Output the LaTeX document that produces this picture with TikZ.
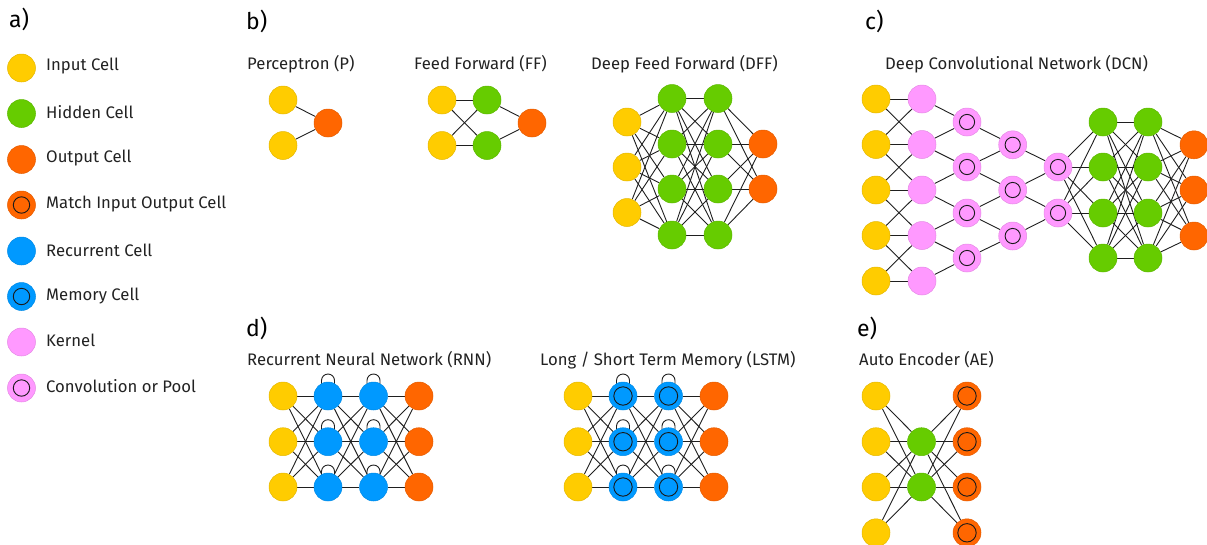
\documentclass[tikz,border=0pt]{standalone}
\usepackage{fontspec}
\setmainfont{Fira Sans}
\usetikzlibrary{calc}
\pgfdeclarelayer{bg}
\pgfsetlayers{bg,main}
\definecolor{cin}{HTML}{FFCC00}
\definecolor{chid}{HTML}{66CC00}
\definecolor{cout}{HTML}{FF6600}
\definecolor{crec}{HTML}{0099FF}
\definecolor{cker}{HTML}{FF99FF}
\definecolor{txt}{HTML}{222222}
\tikzset{
  ringr/.store in=\ringr, ringr=8.2,
  cell/.style={circle, minimum size=28, inner sep=0, line width=0.5},
  incell/.style={cell, fill=cin, draw=cin!90!black},
  hidcell/.style={cell, fill=chid, draw=chid!90!black},
  outcell/.style={cell, fill=cout, draw=cout!90!black},
  reccell/.style={cell, fill=crec, draw=crec!90!black},
  kercell/.style={cell, fill=cker, draw=cker!90!black},
  ring/.style={path picture={\draw[line width=0.9, black!90] (path picture bounding box.center) circle (\ringr);}},
  matchcell/.style={outcell, ring},
  memcell/.style={reccell, ring},
  convcell/.style={kercell, ring},
  conn/.style={draw=black!88, line width=0.9},
  ttl/.style={anchor=west, inner sep=0, text=txt, font=\fontsize{16.7}{19}\selectfont},
  lbl/.style={anchor=west, inner sep=0, text=txt, font=\fontsize{16.7}{19}\selectfont},
  panel/.style={anchor=west, inner sep=0, text=black, font=\fontsize{23}{27}\selectfont},
}
\newcommand{\selfloop}[1]{\draw[conn] ($(#1.center)+(-6.5,-10)$) -- ++(0,-5.5) arc[start angle=180, end angle=360, radius=6.5] -- ++(0,5.5);}
\begin{document}
\begin{tikzpicture}[x=1pt,y=-1pt]
\useasboundingbox (0,0) rectangle (1207,544);

% ---------- a) legend ----------
\node[panel] (la) at (9,19) {a)};
\node[incell]    (k1) at (21.5,68)  {};
\node[hidcell]   (k2) at (21.5,113.5) {};
\node[outcell]   (k3) at (21.5,159.5) {};
\node[matchcell] (k4) at (21.5,205) {};
\node[reccell]   (k5) at (21.5,251) {};
\node[memcell]   (k6) at (21.5,296.5) {};
\node[kercell]   (k7) at (21.5,342) {};
\node[convcell]  (k8) at (21.5,388) {};
\node[lbl] (t1) at (46,66)  {Input Cell};
\node[lbl] (t2) at (46,112) {Hidden Cell};
\node[lbl] (t3) at (46,158) {Output Cell};
\node[lbl] (t4) at (46,204) {Match Input Output Cell};
\node[lbl] (t5) at (46,250) {Recurrent Cell};
\node[lbl] (t6) at (46,296) {Memory Cell};
\node[lbl] (t7) at (46,340) {Kernel};
\node[lbl] (t8) at (46,386) {Convolution or Pool};

% ---------- b) ----------
\node[panel] (lb) at (246,21) {b)};
\node[ttl] (tp) at (247,64) {Perceptron (P)};
\node[incell] (p-i1) at (283,100) {};
\node[incell] (p-i2) at (283,145.5) {};
\node[outcell] (p-o) at (328,123) {};

\node[ttl] (tff) at (414,64) {Feed Forward (FF)};
\node[incell] (ff-i1) at (442,100) {};
\node[incell] (ff-i2) at (442,145.5) {};
\node[hidcell] (ff-h1) at (487,100) {};
\node[hidcell] (ff-h2) at (487,145.5) {};
\node[outcell] (ff-o) at (532,123) {};

\node[ttl] (tdff) at (591,64) {Deep Feed Forward (DFF)};
\foreach \i/\y in {1/122,2/167,3/212.5} \node[incell] (dff-i\i) at (627,\y) {};
\foreach \i/\y in {1/98.5,2/144,3/189,4/235} {
  \node[hidcell] (dff-a\i) at (672,\y) {};
  \node[hidcell] (dff-b\i) at (718,\y) {};
}
\foreach \i/\y in {1/144,2/189} \node[outcell] (dff-o\i) at (763,\y) {};

% ---------- c) ----------
\node[panel] (lc) at (865,21) {c)};
\node[ttl] (tdcn) at (885,64) {Deep Convolutional Network (DCN)};
\foreach \i/\y in {1/99,2/144.5,3/190,4/235.5,5/281} {
  \node[incell] (dcn-i\i) at (876,\y) {};
  \node[kercell] (dcn-k\i) at (922,\y) {};
}
\begin{scope}[ringr=7.6]
\foreach \i/\y in {1/122,2/167,3/213,4/258} {
  \node[convcell] (dcn-c\i) at (967,\y) {};
  \node[hidcell] (dcn-g\i) at (1103,\y) {};
  \node[hidcell] (dcn-h\i) at (1148,\y) {};
}
\foreach \i/\y in {1/144.8,2/190,3/236} {
  \node[convcell] (dcn-d\i) at (1012.7,\y) {};
  \node[outcell] (dcn-o\i) at (1194,\y) {};
}
\foreach \i/\y in {1/167,2/213} \node[convcell] (dcn-e\i) at (1058,\y) {};
\end{scope}

% ---------- d) ----------
\node[panel] (ld) at (246,328) {d)};
\node[ttl] (trnn) at (247,360) {Recurrent Neural Network (RNN)};
\node[ttl] (tlstm) at (540,360) {Long / Short Term Memory (LSTM)};
\begin{scope}[ringr=9.2]
\foreach \i/\y in {1/396,2/441.7,3/487} {
  \node[incell] (r-i\i) at (283,\y) {};
  \node[reccell] (r-a\i) at (328,\y) {};
  \node[reccell] (r-b\i) at (373.5,\y) {};
  \node[outcell] (r-o\i) at (419,\y) {};
  \node[incell] (l-i\i) at (578,\y) {};
  \node[memcell] (l-a\i) at (623,\y) {};
  \node[memcell] (l-b\i) at (668.5,\y) {};
  \node[outcell] (l-o\i) at (714,\y) {};
}
\end{scope}

% ---------- e) ----------
\node[panel] (le) at (857,328) {e)};
\node[ttl] (tae) at (859,360) {Auto Encoder (AE)};
\begin{scope}[ringr=9.2]
\foreach \i/\y in {1/396,2/441.7,3/487,4/532.8} {
  \node[incell] (ae-i\i) at (876,\y) {};
  \node[matchcell] (ae-o\i) at (967,\y) {};
}
\foreach \i/\y in {1/441.7,2/487} \node[hidcell] (ae-h\i) at (921.5,\y) {};
\end{scope}

% ---------- connectors ----------
\begin{pgfonlayer}{bg}
  \draw[conn] (p-i1) -- (p-o);
  \draw[conn] (p-i2) -- (p-o);
  \foreach \a in {1,2} {
    \foreach \b in {1,2} \draw[conn] (ff-i\a) -- (ff-h\b);
    \draw[conn] (ff-h\a) -- (ff-o);
  }
  \foreach \a in {1,2,3} \foreach \b in {1,...,4} \draw[conn] (dff-i\a) -- (dff-a\b);
  \foreach \a in {1,...,4} \foreach \b in {1,...,4} \draw[conn] (dff-a\a) -- (dff-b\b);
  \foreach \a in {1,...,4} \foreach \b in {1,2} \draw[conn] (dff-b\a) -- (dff-o\b);

  \foreach \a/\b in {1/1,1/2,2/1,2/2,2/3,3/2,3/3,3/4,4/3,4/4,4/5,5/4,5/5} \draw[conn] (dcn-i\a) -- (dcn-k\b);
  \foreach \a/\b in {1/1,2/1,2/2,3/2,3/3,4/3,4/4,5/4} \draw[conn] (dcn-k\a) -- (dcn-c\b);
  \foreach \a/\b in {1/1,2/1,2/2,3/2,3/3,4/3} \draw[conn] (dcn-c\a) -- (dcn-d\b);
  \foreach \a/\b in {1/1,2/1,2/2,3/2} \draw[conn] (dcn-d\a) -- (dcn-e\b);
  \foreach \a in {1,2} \foreach \b in {1,...,4} \draw[conn] (dcn-e\a) -- (dcn-g\b);
  \foreach \a in {1,...,4} \foreach \b in {1,...,4} \draw[conn] (dcn-g\a) -- (dcn-h\b);
  \foreach \a in {1,...,4} \foreach \b in {1,2,3} \draw[conn] (dcn-h\a) -- (dcn-o\b);

  \foreach \n in {r,l} {
    \foreach \a in {1,2,3} \foreach \b in {1,2,3} {
      \draw[conn] (\n-i\a) -- (\n-a\b);
      \draw[conn] (\n-a\a) -- (\n-b\b);
      \draw[conn] (\n-b\a) -- (\n-o\b);
    }
    \foreach \a in {1,2,3} {
      \selfloop{\n-a\a}
      \selfloop{\n-b\a}
    }
  }

  \foreach \a in {1,...,4} \foreach \b in {1,2} {
    \draw[conn] (ae-i\a) -- (ae-h\b);
    \draw[conn] (ae-h\b) -- (ae-o\a);
  }
\end{pgfonlayer}
\end{tikzpicture}
\end{document}
